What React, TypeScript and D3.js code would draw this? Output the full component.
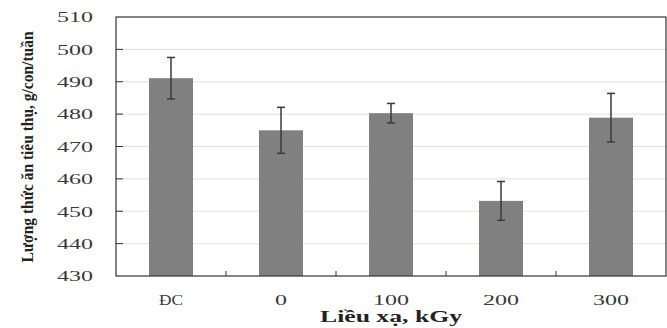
import React from 'react';
import * as d3 from 'd3';

// Feed intake per treatment (g/con/tuần)
const categories = ['ĐC', '0', '100', '200', '300'];
const means = [491.1, 475.0, 480.3, 453.2, 478.9];
const errors = [6.4, 7.1, 3.0, 6.0, 7.5];
const yTicks = [430, 440, 450, 460, 470, 480, 490, 500, 510];

const width = 667;
const height = 328;
const margin = { top: 17, right: 1, bottom: 52, left: 116 };

export default function App() {
  const x = d3.scaleBand<string>()
    .domain(categories)
    .range([margin.left, width - margin.right])
    .paddingInner(0.6)
    .paddingOuter(0.3);
  const band = d3.scaleBand<string>()
    .domain(categories)
    .range([margin.left, width - margin.right]);
  const y = d3.scaleLinear()
    .domain([430, 510])
    .range([height - margin.bottom, margin.top]);

  const x0 = margin.left;
  const x1 = width - margin.right;
  const y0 = y(430);
  const y1 = y(510);
  const serif = "'Liberation Serif', 'DejaVu Serif', serif";

  return (
    <svg width={width} height={height} viewBox={`0 0 ${width} ${height}`}
      style={{ position: 'absolute', left: 0, top: 0, background: '#fff' }}>
      {/* gridlines */}
      {yTicks.filter(t => t > 430 && t < 510).map(t => (
        <line key={'g' + t} x1={x0} x2={x1} y1={y(t)} y2={y(t)} stroke="#e2e1d8" strokeWidth={1} />
      ))}

      {/* bars */}
      {categories.map((c, i) => (
        <rect key={'b' + c} x={x(c)} y={y(means[i])} width={x.bandwidth()}
          height={y0 - y(means[i])} fill="#808080" />
      ))}

      {/* error bars */}
      {categories.map((c, i) => {
        const cx = (x(c) ?? 0) + x.bandwidth() / 2;
        const top = y(means[i] + errors[i]);
        const bot = y(means[i] - errors[i]);
        return (
          <g key={'e' + c} stroke="#3a3a3a" strokeWidth={1.5}>
            <line x1={cx} x2={cx} y1={top} y2={bot} />
            <line x1={cx - 4} x2={cx + 4} y1={top} y2={top} />
            <line x1={cx - 4} x2={cx + 4} y1={bot} y2={bot} />
          </g>
        );
      })}

      {/* frame */}
      <rect x={x0} y={y1} width={x1 - x0} height={y0 - y1} fill="none" stroke="#333" strokeWidth={1.2} />

      {/* y ticks (inward) and labels */}
      {yTicks.map(t => (
        <g key={'y' + t}>
          {t > 430 && t < 510 && (
            <line x1={x0} x2={x0 + 7} y1={y(t)} y2={y(t)} stroke="#333" strokeWidth={1} />
          )}
          <text x={93} y={y(t)} dy="0.35em" textAnchor="end" fontFamily={serif}
            fontSize={15} fill="#3a3a3a" textLength={36} lengthAdjust="spacingAndGlyphs">{t}</text>
        </g>
      ))}

      {/* x ticks between categories (inward) */}
      {categories.slice(1).map(c => (
        <line key={'xt' + c} x1={band(c)} x2={band(c)} y1={y0} y2={y0 - 5} stroke="#333" strokeWidth={1} />
      ))}

      {/* x labels */}
      {categories.map(c => (
        <text key={'xl' + c} x={(x(c) ?? 0) + x.bandwidth() / 2} y={300} dy="0.35em" textAnchor="middle"
          fontFamily={serif} fontSize={15} fill="#3a3a3a"
          textLength={c.length * 12} lengthAdjust="spacingAndGlyphs">{c}</text>
      ))}

      {/* axis titles */}
      <text x={(x0 + x1) / 2} y={322} textAnchor="middle" fontFamily={serif} fontWeight="bold"
        fontSize={17} fill="#222" textLength={142} lengthAdjust="spacingAndGlyphs">Liều xạ, kGy</text>
      <text transform="translate(33,147) rotate(-90)" textAnchor="middle" fontFamily={serif}
        fontWeight="bold" fontSize={17} fill="#222" textLength={231}
        lengthAdjust="spacingAndGlyphs">Lượng thức ăn tiêu thụ, g/con/tuần</text>
    </svg>
  );
}
